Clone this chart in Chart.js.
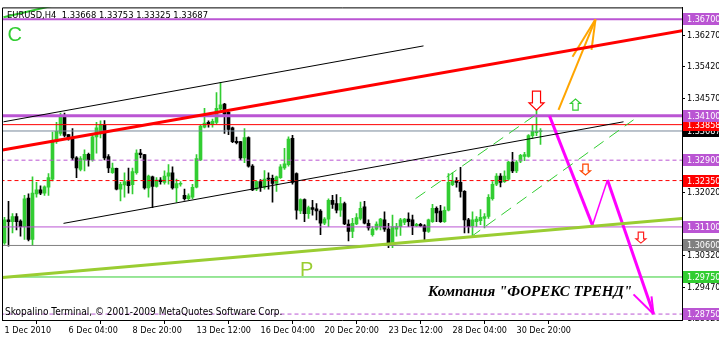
<!DOCTYPE html>
<html>
<head>
<meta charset="utf-8">
<script src="https://cdn.jsdelivr.net/npm/chart.js@4.4.1/dist/chart.umd.min.js"></script>
<style>
  html, body { margin: 0; padding: 0; background: #fff; }
  canvas { display: block; }
</style>
</head>
<body>
<canvas id="chart" width="719" height="338"></canvas>
<script>
const FONT = "'DejaVu Sans Condensed', 'DejaVu Sans', sans-serif";
const PURPLE = '#BA55D3';
const LIME = '#32CD32';

// EURUSD H4 candles, 1 Dec 2010 .. 31 Dec 2010
const opens = [
  1.3067,1.3129,1.3124,1.3138,1.3126,1.3111,1.3188,1.3076,1.3199,1.3210,
  1.3201,1.3217,1.3239,1.3340,1.3362,1.3407,1.3359,1.3347,1.3296,1.3265,
  1.3291,1.3306,1.3291,1.3353,1.3366,1.3385,1.3300,1.3256,1.3268,1.3212,
  1.3223,1.3232,1.3224,1.3256,1.3309,1.3305,1.3215,1.3245,1.3219,1.3236,
  1.3230,1.3247,1.3256,1.3215,1.3225,1.3195,1.3186,1.3190,1.3217,1.3291,
  1.3379,1.3392,1.3386,1.3392,1.3428,1.3441,1.3419,1.3377,1.3341,1.3340,
  1.3296,1.3351,1.3274,1.3212,1.3232,1.3217,1.3241,1.3241,1.3227,1.3243,
  1.3269,1.3278,1.3349,1.3254,1.3153,1.3184,1.3146,1.3162,1.3159,1.3153,
  1.3120,1.3131,1.3182,1.3173,1.3155,1.3173,1.3118,1.3098,1.3118,1.3133,
  1.3164,1.3120,1.3089,1.3104,1.3111,1.3129,1.3104,1.3067,1.3104,1.3111,
  1.3122,1.3131,1.3129,1.3113,1.3117,1.3113,1.3098,1.3124,1.3160,1.3153,
  1.3124,1.3155,1.3224,1.3234,1.3230,1.3206,1.3129,1.3113,1.3124,1.3127,
  1.3133,1.3138,1.3186,1.3225,1.3247,1.3232,1.3239,1.3285,1.3261,1.3287,
  1.3300,1.3300,1.3356,1.3364,1.33668
];
const highs = [
  1.3136,1.3179,1.3146,1.3146,1.3129,1.3195,1.3199,1.3245,1.3230,1.3221,
  1.3221,1.3254,1.3366,1.3392,1.3417,1.3417,1.3359,1.3375,1.3300,1.3300,
  1.3318,1.3309,1.3357,1.3392,1.3396,1.3397,1.3305,1.3282,1.3269,1.3230,
  1.3256,1.3269,1.3269,1.3318,1.3319,1.3306,1.3250,1.3247,1.3243,1.3243,
  1.3261,1.3278,1.3272,1.3239,1.3232,1.3212,1.3199,1.3225,1.3305,1.3384,
  1.3430,1.3396,1.3401,1.3472,1.3500,1.3443,1.3421,1.3379,1.3352,1.3341,
  1.3375,1.3353,1.3278,1.3234,1.3238,1.3262,1.3256,1.3250,1.3247,1.3278,
  1.3322,1.3353,1.3357,1.3256,1.3186,1.3186,1.3166,1.3182,1.3173,1.3157,
  1.3135,1.3186,1.3195,1.3197,1.3190,1.3177,1.3129,1.3133,1.3146,1.3177,
  1.3179,1.3129,1.3111,1.3124,1.3133,1.3151,1.3120,1.3142,1.3120,1.3133,
  1.3133,1.3148,1.3142,1.3120,1.3120,1.3116,1.3131,1.3171,1.3164,1.3168,
  1.3164,1.3254,1.3256,1.3243,1.3271,1.3208,1.3133,1.3151,1.3138,1.3157,
  1.3146,1.3197,1.3232,1.3254,1.3254,1.3261,1.3287,1.3311,1.3289,1.3306,
  1.3311,1.3359,1.3384,1.3426,1.33753
];
const lows = [
  1.3063,1.3058,1.3094,1.3102,1.3085,1.3076,1.3072,1.3060,1.3190,1.3197,
  1.3195,1.3195,1.3234,1.3335,1.3357,1.3353,1.3344,1.3291,1.3243,1.3261,
  1.3261,1.3274,1.3287,1.3309,1.3350,1.3291,1.3256,1.3254,1.3210,1.3180,
  1.3190,1.3201,1.3199,1.3252,1.3296,1.3212,1.3190,1.3162,1.3217,1.3225,
  1.3225,1.3225,1.3212,1.3177,1.3220,1.3182,1.3183,1.3186,1.3215,1.3289,
  1.3377,1.3379,1.3379,1.3388,1.3423,1.3362,1.3359,1.3337,1.3334,1.3291,
  1.3283,1.3271,1.3208,1.3208,1.3206,1.3212,1.3212,1.3177,1.3206,1.3241,
  1.3265,1.3274,1.3225,1.3131,1.3146,1.3124,1.3133,1.3142,1.3129,1.3089,
  1.3116,1.3111,1.3160,1.3148,1.3138,1.3116,1.3072,1.3081,1.3116,1.3129,
  1.3118,1.3101,1.3085,1.3101,1.3102,1.3098,1.3054,1.3054,1.3085,1.3087,
  1.3116,1.3111,1.3089,1.3111,1.3111,1.3072,1.3095,1.3122,1.3124,1.3122,
  1.3122,1.3153,1.3221,1.3217,1.3190,1.3094,1.3094,1.3085,1.3111,1.3116,
  1.3107,1.3133,1.3182,1.3221,1.3218,1.3230,1.3236,1.3256,1.3256,1.3283,
  1.3289,1.3298,1.3349,1.3356,1.33325
];
const closes = [
  1.3129,1.3124,1.3138,1.3124,1.3111,1.3186,1.3076,1.3201,1.3210,1.3201,
  1.3218,1.3243,1.3340,1.3368,1.3410,1.3357,1.3349,1.3296,1.3269,1.3294,
  1.3306,1.3291,1.3353,1.3377,1.3385,1.3296,1.3269,1.3269,1.3212,1.3225,
  1.3232,1.3221,1.3259,1.3309,1.3305,1.3215,1.3247,1.3219,1.3236,1.3232,
  1.3247,1.3256,1.3215,1.3227,1.3227,1.3186,1.3194,1.3217,1.3294,1.3382,
  1.3390,1.3388,1.3395,1.3430,1.3439,1.3414,1.3373,1.3340,1.3337,1.3296,
  1.3351,1.3274,1.3210,1.3232,1.3217,1.3239,1.3239,1.3227,1.3245,1.3272,
  1.3280,1.3347,1.3230,1.3155,1.3184,1.3146,1.3162,1.3157,1.3153,1.3120,
  1.3131,1.3182,1.3171,1.3155,1.3173,1.3118,1.3098,1.3120,1.3135,1.3160,
  1.3120,1.3107,1.3104,1.3118,1.3131,1.3104,1.3067,1.3111,1.3111,1.3129,
  1.3131,1.3124,1.3113,1.3117,1.3113,1.3098,1.3129,1.3160,1.3148,1.3124,
  1.3155,1.3230,1.3234,1.3230,1.3206,1.3129,1.3111,1.3129,1.3131,1.3136,
  1.3138,1.3190,1.3225,1.3247,1.3230,1.3247,1.3285,1.3261,1.3285,1.3303,
  1.3305,1.3356,1.3368,1.3368,1.33687
];

const dateLabels = ['1 Dec 2010', '6 Dec 04:00', '8 Dec 20:00', '13 Dec 12:00', '16 Dec 04:00',
                    '20 Dec 20:00', '23 Dec 12:00', '28 Dec 04:00', '30 Dec 20:00'];
const dateTickBars = [0, 16, 32, 48, 64, 80, 96, 112, 128];
const priceTicks = [1.3627, 1.3542, 1.3457, 1.3202, 1.3032, 1.2947, 1.2862];

// horizontal levels (also marked on the price scale)
const levelPrices = [1.367, 1.341, 1.33858, 1.33687, 1.329, 1.3235, 1.311, 1.306, 1.2975, 1.2875];
const levelColors = [PURPLE, PURPLE, '#FF0000', '#778899', PURPLE, '#FF0000', PURPLE, '#808080', LIME, PURPLE];
const levelBoxColors = [PURPLE, PURPLE, '#FF0000', '#000000', PURPLE, '#FF0000', PURPLE, '#808080', LIME, PURPLE];
const levelWidths = [2, 3, 1, 1, 1, 1, 1, 1, 1, 1];
const levelDashed = [false, false, false, false, true, true, false, false, false, true];

// trend lines and arrow strokes: [bar, price, bar, price]
const segments = [
  { pts: [-0.5, 1.33172, 169.5, 1.36394], color: '#FF0000', width: 3 },
  { pts: [-0.25, 1.33935, 104.75, 1.35982], color: '#000000', width: 1 },
  { pts: [14.75, 1.31196, 154.75, 1.33935], color: '#000000', width: 1 },
  { pts: [-0.5, 1.29734, 169.5, 1.31329], color: '#9ACD32', width: 3 },
  { pts: [-0.25, 1.36753, 20.75, 1.37285], color: LIME, width: 2 },
  { pts: [102.75, 1.31861, 132.75, 1.34121], color: LIME, width: 1, dash: [12, 7] },
  { pts: [116.5, 1.30824, 157.25, 1.33988], color: LIME, width: 1, dash: [12, 7] },
  { pts: [136.25, 1.34094, 147, 1.31143], color: '#FF00FF', width: 3 },
  { pts: [147, 1.31143, 150.75, 1.32366], color: '#FF00FF', width: 1.5 },
  { pts: [150.75, 1.32366, 162.25, 1.2875], color: '#FF00FF', width: 3 },
  { pts: [157.25, 1.29282, 162.25, 1.2875], color: '#FF00FF', width: 2 },
  { pts: [161.75, 1.29229, 162.25, 1.2875], color: '#FF00FF', width: 2 },
  { pts: [138.5, 1.34254, 147.75, 1.367], color: '#FFA500', width: 2 },
  { pts: [142, 1.3569, 147.75, 1.367], color: '#FFA500', width: 2 },
  { pts: [146.75, 1.35876, 147.75, 1.367], color: '#FFA500', width: 2 }
];

// hollow arrow signs: tip at [bar, price]
const arrows = [
  { bar: 133, price: 1.3425, up: false, w: 15, h: 19, color: '#FF0000' },
  { bar: 142.75, price: 1.34546, up: true, w: 10, h: 11, color: LIME },
  { bar: 145.25, price: 1.32499, up: false, w: 10, h: 11, color: '#FF4500' },
  { bar: 159.1, price: 1.30664, up: false, w: 10, h: 11, color: '#FF2020' }
];

const chartTexts = [
  { text: 'C', bar: 0.75, price: 1.36123, font: "20px 'Liberation Sans', Arial, sans-serif", color: LIME },
  { text: 'P', bar: 73.9, price: 1.29787, font: "20px 'Liberation Sans', Arial, sans-serif", color: '#9ACD32' },
  { text: 'Компания "ФОРЕКС ТРЕНД"', bar: 105.9, price: 1.29242, font: "bold italic 15px 'Liberation Serif', serif", color: '#000' }
];

function hollowArrow(ctx, x, tipY, up, w, h, color) {
  const sw = w * 0.27, hw = w / 2, hh = h * 0.38, s = up ? -1 : 1;
  const baseY = tipY - s * h, neckY = tipY - s * hh;
  ctx.beginPath();
  ctx.moveTo(x - sw, baseY);
  ctx.lineTo(x + sw, baseY);
  ctx.lineTo(x + sw, neckY);
  ctx.lineTo(x + hw, neckY);
  ctx.lineTo(x, tipY);
  ctx.lineTo(x - hw, neckY);
  ctx.lineTo(x - sw, neckY);
  ctx.closePath();
  ctx.fillStyle = '#fff';
  ctx.fill();
  ctx.strokeStyle = color;
  ctx.lineWidth = 1.2;
  ctx.stroke();
}

const overlay = {
  id: 'overlay',
  afterDatasetsDraw(chart) {
    const { ctx, chartArea: a, scales: { x, y } } = chart;
    ctx.save();

    // frame (left and top, the axes give the rest)
    ctx.strokeStyle = '#000';
    ctx.lineWidth = 1;
    ctx.beginPath();
    ctx.moveTo(a.left + 0.5, a.bottom);
    ctx.lineTo(a.left + 0.5, a.top + 0.5);
    ctx.lineTo(a.right, a.top + 0.5);
    ctx.stroke();

    ctx.save();
    ctx.beginPath();
    ctx.rect(a.left, a.top, a.right - a.left, a.bottom - a.top);
    ctx.clip();
    arrows.forEach(ar => hollowArrow(ctx, x.getPixelForValue(ar.bar), y.getPixelForValue(ar.price),
                                     ar.up, ar.w, ar.h, ar.color));
    ctx.textAlign = 'left';
    ctx.textBaseline = 'alphabetic';
    chartTexts.forEach(t => {
      ctx.font = t.font;
      ctx.fillStyle = t.color;
      ctx.fillText(t.text, x.getPixelForValue(t.bar), y.getPixelForValue(t.price));
    });
    ctx.fillStyle = '#000';
    ctx.font = '9.3px ' + FONT;
    ctx.fillText('EURUSD,H4  1.33668 1.33753 1.33325 1.33687', a.left + 5, a.top + 11);
    ctx.font = '10px ' + FONT;
    ctx.fillText('Skopalino Terminal, \u00A9 2001-2009 MetaQuotes Software Corp.', a.left + 3, a.bottom - 5);
    ctx.restore();

    // marked levels on the price scale
    ctx.font = '9px ' + FONT;
    ctx.textBaseline = 'middle';
    for (let k = levelPrices.length - 1; k >= 0; k--) {
      const py = Math.round(y.getPixelForValue(levelPrices[k]));
      ctx.fillStyle = levelBoxColors[k];
      ctx.fillRect(a.right + 1, py - 6, chart.width - a.right - 1, 12);
      ctx.fillStyle = '#fff';
      ctx.fillText(levelPrices[k].toFixed(5), a.right + 5, py + 0.5);
    }
    ctx.restore();
  }
};

const lineSets = [];
levelPrices.forEach((p, k) => lineSets.push({
  type: 'line',
  data: [{ x: -1, y: p }, { x: 171, y: p }],
  borderColor: levelColors[k],
  borderWidth: levelWidths[k],
  borderDash: levelDashed[k] ? [4, 3] : [],
  pointRadius: 0, fill: false, order: 2
}));
segments.forEach(s => lineSets.push({
  type: 'line',
  data: [{ x: s.pts[0], y: s.pts[1] }, { x: s.pts[2], y: s.pts[3] }],
  borderColor: s.color,
  borderWidth: s.width,
  borderDash: s.dash || [],
  pointRadius: 0, fill: false, order: 1
}));

const candleColors = closes.map((c, i) => c >= opens[i] ? LIME : '#000000');

new Chart(document.getElementById('chart'), {
  type: 'bar',
  data: {
    datasets: [
      {
        data: highs.map((h, i) => ({ x: i, y: [lows[i], h] })),
        backgroundColor: candleColors,
        barThickness: 1, grouped: false, borderWidth: 0, minBarLength: 1, order: 6
      },
      {
        data: opens.map((o, i) => ({ x: i, y: [o, closes[i]] })),
        backgroundColor: candleColors,
        barThickness: 3, grouped: false, borderWidth: 0, minBarLength: 1, order: 5
      },
      ...lineSets
    ]
  },
  options: {
    responsive: false,
    animation: false,
    events: [],
    layout: { padding: { left: 2, top: 3, right: 0, bottom: 0 } },
    plugins: { legend: { display: false }, tooltip: { enabled: false } },
    scales: {
      x: {
        type: 'linear', min: -0.625, max: 169.375, offset: false,
        afterBuildTicks: s => { s.ticks = dateTickBars.map(v => ({ value: v })); },
        afterFit: s => { s.height = 18; },
        grid: { drawOnChartArea: false, tickLength: 4, color: '#000' },
        border: { color: '#000', width: 1 },
        ticks: {
          autoSkip: false, maxRotation: 0, minRotation: 0, align: 'start', padding: 1,
          color: '#000', font: { family: FONT, size: 9 },
          callback: (v, idx) => dateLabels[idx]
        }
      },
      y: {
        type: 'linear', position: 'right', min: 1.2859, max: 1.3702,
        afterBuildTicks: s => { s.ticks = priceTicks.map(v => ({ value: v })); },
        afterFit: s => { s.width = 37; },
        grid: { drawOnChartArea: false, tickLength: 3, color: '#000' },
        border: { color: '#000', width: 1 },
        ticks: {
          autoSkip: false, padding: 2, color: '#000', font: { family: FONT, size: 9 },
          callback: v => v.toFixed(5)
        }
      }
    }
  },
  plugins: [overlay]
});
</script>
</body>
</html>
